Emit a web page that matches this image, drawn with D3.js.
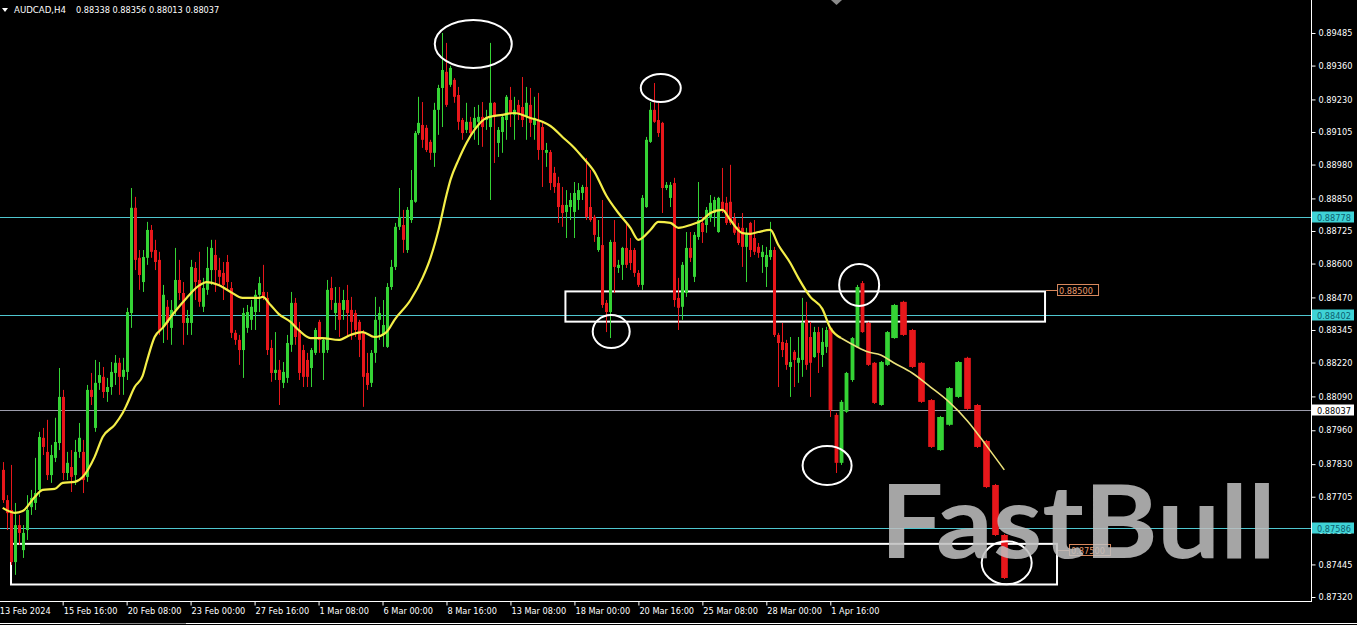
<!DOCTYPE html>
<html><head><meta charset="utf-8">
<script src="https://cdn.jsdelivr.net/npm/d3@7"></script>
<style>html,body{margin:0;padding:0;background:#000;overflow:hidden}svg{display:block}</style>
</head><body>
<svg id="chart" width="1357" height="625"></svg>
<script>
// ---------------- DATA ----------------
const symbolTitle = "AUDCAD,H4";
const quoteValues = [0.88338, 0.88356, 0.88013, 0.88037];

// candles: [open, high, low, close]
const ohlc = [
[0.87808,0.87838,0.87681,0.87692],[0.87692,0.87711,0.87577,0.87642],[0.87654,0.87827,0.87443,0.87454],[0.87454,0.87681,0.87405,0.87596],
[0.87596,0.87635,0.87520,0.87566],[0.87500,0.87596,0.87470,0.87566],[0.87577,0.87711,0.87539,0.87654],[0.87665,0.87731,0.87635,0.87700],
[0.87681,0.87854,0.87654,0.87719],[0.87731,0.87954,0.87704,0.87934],[0.87931,0.87969,0.87865,0.87896],[0.87877,0.88000,0.87769,0.87788],
[0.87788,0.87904,0.87758,0.87865],[0.87854,0.88008,0.87838,0.87915],[0.87911,0.88199,0.87884,0.88088],[0.88088,0.88115,0.87769,0.87796],
[0.87796,0.87877,0.87769,0.87835],[0.87819,0.87884,0.87723,0.87781],[0.87788,0.87923,0.87750,0.87877],[0.87877,0.87988,0.87854,0.87931],
[0.87877,0.87923,0.87719,0.87769],[0.87781,0.88134,0.87762,0.88115],[0.88115,0.88180,0.88057,0.88088],[0.87969,0.88230,0.87954,0.88142],
[0.88142,0.88222,0.88115,0.88172],[0.88165,0.88203,0.88084,0.88107],[0.88107,0.88161,0.88069,0.88126],[0.88126,0.88222,0.88096,0.88184],
[0.88180,0.88249,0.88134,0.88219],[0.88219,0.88238,0.88096,0.88165],[0.88165,0.88238,0.88096,0.88192],[0.88184,0.88430,0.88153,0.88414],
[0.88410,0.88890,0.88353,0.88814],[0.88814,0.88856,0.88575,0.88614],[0.88622,0.88652,0.88499,0.88556],[0.88529,0.88652,0.88491,0.88625],
[0.88622,0.88760,0.88595,0.88729],[0.88729,0.88748,0.88622,0.88645],[0.88652,0.88691,0.88575,0.88606],[0.88614,0.88645,0.88326,0.88345],
[0.88357,0.88518,0.88295,0.88480],[0.88434,0.88460,0.88307,0.88372],[0.88353,0.88460,0.88288,0.88422],[0.88422,0.88660,0.88403,0.88537],
[0.88537,0.88614,0.88460,0.88487],[0.88487,0.88529,0.88288,0.88372],[0.88372,0.88422,0.88326,0.88391],[0.88372,0.88614,0.88326,0.88587],
[0.88583,0.88606,0.88460,0.88529],[0.88537,0.88645,0.88434,0.88453],[0.88434,0.88545,0.88414,0.88506],[0.88499,0.88664,0.88480,0.88583],
[0.88575,0.88691,0.88518,0.88660],[0.88633,0.88691,0.88491,0.88575],[0.88575,0.88622,0.88518,0.88549],[0.88564,0.88606,0.88460,0.88518],
[0.88606,0.88633,0.88499,0.88529],[0.88506,0.88529,0.88314,0.88334],[0.88334,0.88345,0.88288,0.88307],[0.88307,0.88326,0.88211,0.88268],
[0.88268,0.88430,0.88161,0.88410],[0.88353,0.88441,0.88334,0.88414],[0.88384,0.88460,0.88345,0.88434],[0.88414,0.88499,0.88345,0.88480],
[0.88480,0.88549,0.88414,0.88525],[0.88491,0.88595,0.88460,0.88468],[0.88468,0.88491,0.88249,0.88268],[0.88276,0.88307,0.88146,0.88180],
[0.88180,0.88337,0.88153,0.88192],[0.88192,0.88230,0.88057,0.88153],[0.88142,0.88222,0.88122,0.88184],[0.88161,0.88326,0.88142,0.88295],
[0.88288,0.88491,0.88261,0.88449],[0.88449,0.88468,0.88288,0.88318],[0.88345,0.88376,0.88153,0.88180],[0.88268,0.88288,0.88126,0.88165],
[0.88230,0.88257,0.88126,0.88165],[0.88199,0.88276,0.88126,0.88268],[0.88257,0.88353,0.88249,0.88345],[0.88376,0.88384,0.88257,0.88307],
[0.88257,0.88314,0.88153,0.88307],[0.88268,0.88537,0.88257,0.88499],[0.88506,0.88549,0.88422,0.88460],[0.88410,0.88510,0.88345,0.88449],
[0.88449,0.88510,0.88318,0.88384],[0.88422,0.88499,0.88384,0.88460],[0.88460,0.88518,0.88318,0.88410],[0.88422,0.88472,0.88307,0.88376],
[0.88410,0.88422,0.88318,0.88345],[0.88376,0.88384,0.88241,0.88307],[0.88334,0.88345,0.88050,0.88165],[0.88180,0.88257,0.88115,0.88134],
[0.88142,0.88268,0.88126,0.88257],[0.88257,0.88472,0.88219,0.88384],[0.88384,0.88434,0.88307,0.88410],[0.88326,0.88460,0.88280,0.88364],
[0.88280,0.88525,0.88276,0.88510],[0.88510,0.88614,0.88499,0.88587],[0.88587,0.88756,0.88575,0.88741],[0.88741,0.88890,0.88729,0.88779],
[0.88748,0.88806,0.88641,0.88691],[0.88652,0.88817,0.88641,0.88806],[0.88767,0.88959,0.88756,0.88844],[0.88837,0.89109,0.88833,0.89101],
[0.89101,0.89240,0.89094,0.89140],[0.89132,0.89220,0.89044,0.89075],[0.89121,0.89132,0.89028,0.89036],[0.89067,0.89075,0.88998,0.89025],
[0.89025,0.89217,0.88971,0.89190],[0.89190,0.89286,0.89094,0.89274],[0.89274,0.89485,0.89124,0.89343],[0.89336,0.89447,0.89201,0.89209],
[0.89286,0.89359,0.89278,0.89351],[0.89305,0.89312,0.89217,0.89240],[0.89247,0.89278,0.89113,0.89144],[0.89151,0.89159,0.89075,0.89101],
[0.89113,0.89217,0.89101,0.89144],[0.89144,0.89163,0.89086,0.89101],[0.89121,0.89201,0.89075,0.89159],[0.89144,0.89209,0.89055,0.89163],
[0.89163,0.89220,0.89048,0.89124],[0.89151,0.89190,0.89113,0.89163],[0.89124,0.89447,0.88844,0.89217],[0.89217,0.89220,0.88986,0.89163],
[0.89063,0.89124,0.89009,0.89113],[0.89105,0.89171,0.89025,0.89163],[0.89151,0.89247,0.89075,0.89240],[0.89228,0.89278,0.89124,0.89178],
[0.89171,0.89240,0.89075,0.89190],[0.89209,0.89228,0.89151,0.89178],[0.89201,0.89316,0.89124,0.89151],[0.89163,0.89278,0.89075,0.89217],
[0.89209,0.89274,0.89086,0.89140],[0.89132,0.89240,0.89075,0.89159],[0.89151,0.89255,0.88998,0.89036],[0.89124,0.89140,0.88894,0.89036],
[0.89025,0.89063,0.88971,0.89036],[0.89028,0.89036,0.88882,0.88909],[0.88948,0.88971,0.88871,0.88894],[0.88909,0.88933,0.88756,0.88817],
[0.88825,0.88894,0.88741,0.88794],[0.88798,0.88882,0.88698,0.88825],[0.88817,0.88871,0.88767,0.88844],[0.88798,0.88913,0.88698,0.88871],
[0.88844,0.88909,0.88806,0.88882],[0.88871,0.88902,0.88844,0.88894],[0.88894,0.89005,0.88767,0.88779],[0.88817,0.88959,0.88760,0.88767],
[0.88779,0.88787,0.88683,0.88710],[0.88652,0.88767,0.88645,0.88702],[0.88671,0.88844,0.88430,0.88441],[0.88449,0.88460,0.88337,0.88414],
[0.88414,0.88691,0.88314,0.88683],[0.88683,0.88767,0.88487,0.88587],[0.88583,0.88614,0.88564,0.88595],[0.88595,0.88664,0.88537,0.88660],
[0.88660,0.88756,0.88583,0.88595],[0.88652,0.88698,0.88575,0.88602],[0.88652,0.88660,0.88549,0.88564],[0.88564,0.88575,0.88510,0.88518],
[0.88518,0.88863,0.88499,0.88852],[0.88817,0.89086,0.88814,0.89075],[0.89067,0.89220,0.89063,0.89190],[0.89190,0.89293,0.89140,0.89144],
[0.89151,0.89217,0.89086,0.89101],[0.89140,0.89144,0.88794,0.88890],[0.88890,0.88913,0.88882,0.88902],[0.88852,0.88913,0.88817,0.88902],
[0.88909,0.88929,0.88434,0.88460],[0.88468,0.88545,0.88345,0.88430],[0.88434,0.88606,0.88384,0.88595],[0.88487,0.88721,0.88472,0.88660],
[0.88660,0.88721,0.88606,0.88622],[0.88549,0.88721,0.88529,0.88710],[0.88702,0.88913,0.88691,0.88767],[0.88756,0.88779,0.88679,0.88721],
[0.88748,0.88817,0.88718,0.88806],[0.88775,0.88863,0.88760,0.88833],[0.88794,0.88856,0.88741,0.88844],[0.88721,0.88856,0.88718,0.88852],
[0.88837,0.88967,0.88794,0.88806],[0.88833,0.88856,0.88748,0.88756],[0.88837,0.88979,0.88748,0.88756],[0.88775,0.88794,0.88710,0.88718],
[0.88741,0.88756,0.88671,0.88679],[0.88737,0.88794,0.88587,0.88664],[0.88664,0.88737,0.88529,0.88717],[0.88756,0.88760,0.88625,0.88652],
[0.88698,0.88767,0.88633,0.88645],[0.88664,0.88679,0.88622,0.88641],[0.88625,0.88671,0.88564,0.88645],[0.88587,0.88664,0.88510,0.88633],
[0.88625,0.88760,0.88614,0.88652],[0.88652,0.88664,0.88318,0.88326],[0.88326,0.88334,0.88126,0.88295],[0.88299,0.88372,0.88241,0.88268],
[0.88295,0.88307,0.88192,0.88211],[0.88203,0.88318,0.88088,0.88222],[0.88261,0.88268,0.88126,0.88230],[0.88219,0.88318,0.88142,0.88238],
[0.88230,0.88468,0.88165,0.88372],[0.88384,0.88453,0.88192,0.88211],[0.88318,0.88376,0.88088,0.88219],[0.88241,0.88357,0.88238,0.88337],
[0.88337,0.88357,0.88180,0.88257],[0.88249,0.88353,0.88203,0.88299],[0.88280,0.88357,0.88257,0.88345],[0.88353,0.88357,0.88011,0.88038],
[0.88019,0.88027,0.87796,0.87835],[0.87835,0.88076,0.87827,0.88069],[0.88031,0.88184,0.88027,0.88180],[0.88153,0.88318,0.88146,0.88314],
[0.88280,0.88518,0.88276,0.88510],[0.88525,0.88533,0.88334,0.88337],[0.88372,0.88376,0.88207,0.88211],[0.88219,0.88222,0.88061,0.88065],
[0.88057,0.88226,0.88054,0.88222],[0.88211,0.88341,0.88207,0.88337],[0.88314,0.88445,0.88311,0.88441],[0.88453,0.88457,0.88322,0.88326],
[0.88345,0.88349,0.88199,0.88203],[0.88219,0.88222,0.88065,0.88069],[0.88076,0.88080,0.87892,0.87896],[0.87884,0.88015,0.87881,0.88011],
[0.87981,0.88126,0.87977,0.88122],[0.88088,0.88226,0.88084,0.88222],[0.88238,0.88242,0.88038,0.88042],[0.88057,0.88061,0.87892,0.87896],
[0.87919,0.87923,0.87738,0.87742],[0.87750,0.87754,0.87554,0.87558],[0.87558,0.87562,0.87389,0.87393]
];

// moving average, sampled at bar indices
const maBars   = [0,3,5,8,10,13,15,18,20,23,25,28,30,31,33,35,36,38,40,43,46,49,51,54,57,60,64,65,67,69,72,74,77,80,84,87,90,93,96,98,102,105,107,109,111,112,114,116,118,121,125,128,132,135,137,140,143,145,148,151,154,157,159,162,164,167,169,172,175,177,180,182,185,187,189,192,194,197,199,202,205,207,209,212,214,216,218,220,222,224,226,228,230];
const maValues = [0.87662,0.87643,0.87650,0.87704,0.87731,0.87735,0.87758,0.87762,0.87781,0.87858,0.87934,0.87981,0.88026,0.88057,0.88126,0.88169,0.88222,0.88318,0.88353,0.88414,0.88468,0.88514,0.88529,0.88518,0.88491,0.88468,0.88468,0.88472,0.88441,0.88407,0.88376,0.88345,0.88314,0.88314,0.88307,0.88326,0.88337,0.88318,0.88337,0.88384,0.88460,0.88545,0.88622,0.88729,0.88863,0.88921,0.88998,0.89063,0.89113,0.89159,0.89171,0.89178,0.89159,0.89144,0.89128,0.89086,0.89044,0.89009,0.88952,0.88860,0.88794,0.88737,0.88691,0.88729,0.88760,0.88756,0.88737,0.88748,0.88767,0.88794,0.88806,0.88767,0.88717,0.88714,0.88721,0.88729,0.88671,0.88602,0.88545,0.88472,0.88426,0.88353,0.88314,0.88280,0.88261,0.88249,0.88219,0.88180,0.88126,0.88069,0.87996,0.87904,0.87808];

// price axis labels
const priceTicks = [0.89485,0.89360,0.89230,0.89105,0.88980,0.88850,0.88725,0.88600,0.88470,0.88345,0.88220,0.88090,0.87960,0.87830,0.87705,0.87575,0.87445,0.87320];
// time axis labels (bar index of each label)
const timeTickBars = [-1,15,31,47,63,79,95,111,127,143,159,175,191,207];
const timeTickLabels = ["13 Feb 2024","15 Feb 16:00","20 Feb 08:00","23 Feb 00:00","27 Feb 16:00","1 Mar 08:00","6 Mar 00:00","8 Mar 16:00","13 Mar 08:00","18 Mar 00:00","20 Mar 16:00","25 Mar 08:00","28 Mar 00:00","1 Apr 16:00"];

// horizontal levels
const levelPrices = [0.88778, 0.88402, 0.87586];
const bidPrice = 0.88037;

// zones (rectangles) in bar index / price
const zoneFrom   = [140.75, 2.08];
const zoneTo     = [234.42, 235.72];
const zoneTop    = [0.88493, 0.87524];
const zoneBottom = [0.88377, 0.87368];
const zoneLabel  = [0.88500, 0.87500];

// circled points (bar index / price)
const markBars   = [117.7, 164.6, 152.2, 212.4, 206.2, 230.26];
const markPrices = [0.89443, 0.89274, 0.88339, 0.88518, 0.87825, 0.87451];

const watermarkText = "FastBull";

// ---------------- LAYOUT ----------------
const plotRight = 1311, plotBottom = 601;
const markRadii = [[38.5,24],[20,14],[18.5,16.5],[20,21],[24.5,19.5],[25,21.5]];
const UP = "#35d335", DOWN = "#e8171b";
const font = "'DejaVu Sans', Verdana, sans-serif";

const svg = d3.select("#chart");
svg.append("rect").attr("width",1357).attr("height",625).attr("fill","#000");

const x = d3.scaleLinear().domain([0,207,214,218,230]).range([2.7,830.3,867.7,893.7,1004.3]);
const y = d3.scaleLinear().domain([0.87320,0.89485]).range([597,33]);

svg.append("clipPath").attr("id","plot").append("rect")
  .attr("x",0).attr("y",0).attr("width",plotRight).attr("height",plotBottom);
const plot = svg.append("g").attr("clip-path","url(#plot)");

// levels
plot.selectAll("line.level").data(levelPrices).enter().append("line")
  .attr("x1",0).attr("x2",plotRight)
  .attr("y1",d=>Math.round(y(d))+0.5).attr("y2",d=>Math.round(y(d))+0.5)
  .attr("stroke","#4fc6cf").attr("stroke-width",1);
plot.append("line").attr("x1",0).attr("x2",plotRight)
  .attr("y1",Math.round(y(bidPrice))+0.5).attr("y2",Math.round(y(bidPrice))+0.5)
  .attr("stroke","#9c9cab").attr("stroke-width",1);

// zones
const zones = zoneFrom.map((f,k)=>({f,t:zoneTo[k],top:zoneTop[k],bot:zoneBottom[k],lab:zoneLabel[k]}));
plot.selectAll("rect.zone").data(zones).enter().append("rect")
  .attr("x",d=>x(d.f)).attr("y",d=>y(d.top))
  .attr("width",d=>x(d.t)-x(d.f)).attr("height",d=>y(d.bot)-y(d.top))
  .attr("fill","none").attr("stroke","#fff").attr("stroke-width",2);

const zl = svg.append("g");
zones.forEach(d=>{
  const yy = Math.round(y(d.lab))+0.5, x0 = x(d.t);
  zl.append("line").attr("x1",x0+1).attr("x2",x0+12).attr("y1",yy).attr("y2",yy)
    .attr("stroke","#d9895e").attr("stroke-width",1);
  zl.append("rect").attr("x",x0+12.5).attr("y",yy-6).attr("width",41).attr("height",11)
    .attr("fill","#000").attr("stroke","#d9895e").attr("stroke-width",1);
  zl.append("text").attr("x",x0+14).attr("y",yy+3.5).text(d3.format(".5f")(d.lab))
    .attr("fill","#e79a6c").attr("font-family",font).attr("font-size",8.2);
});

// watermark
svg.append("text").attr("x",880).attr("y",558).text(watermarkText)
  .attr("font-family","Lato, 'Open Sans', sans-serif").attr("font-weight",700)
  .attr("font-size",101).attr("textLength",396).attr("lengthAdjust","spacingAndGlyphs")
  .attr("fill","#c0c0c0").attr("opacity",0.86);

// candles
const candles = ohlc.map((d,i)=>({i,o:d[0],h:d[1],l:d[2],c:d[3]}));
function bodyW(i){ return i<207 ? 3 : Math.min(7, (x(i+1)-x(i))*0.72); }
const cg = plot.append("g");
cg.selectAll("line.wick").data(candles).enter().append("line")
  .attr("x1",d=>Math.round(x(d.i))+0.5).attr("x2",d=>Math.round(x(d.i))+0.5)
  .attr("y1",d=>y(d.h)).attr("y2",d=>y(d.l))
  .attr("stroke",d=>d.c>=d.o?UP:DOWN).attr("stroke-width",1);
cg.selectAll("rect.body").data(candles).enter().append("rect")
  .attr("x",d=>Math.round(x(d.i))+0.5-bodyW(d.i)/2)
  .attr("y",d=>y(Math.max(d.o,d.c)))
  .attr("width",d=>bodyW(d.i))
  .attr("height",d=>Math.max(1,Math.abs(y(d.o)-y(d.c))))
  .attr("fill",d=>d.c>=d.o?UP:DOWN);

// moving average
const ma = maBars.map((b,k)=>({b,v:maValues[k]}));
const maLine = d3.line().x(d=>x(d.b)).y(d=>y(d.v)).curve(d3.curveMonotoneX);
plot.append("path").datum(ma.filter(d=>d.b<=209)).attr("d",maLine)
  .attr("fill","none").attr("stroke","#f4ee48").attr("stroke-width",2.2);
plot.append("path").datum(ma.filter(d=>d.b>=209)).attr("d",maLine)
  .attr("fill","none").attr("stroke","#ece27a").attr("stroke-width",1.6);

// circled marks
const marks = markBars.map((b,k)=>({b,p:markPrices[k],r:markRadii[k]}));
plot.selectAll("ellipse.mark").data(marks).enter().append("ellipse")
  .attr("cx",d=>x(d.b)).attr("cy",d=>y(d.p)).attr("rx",d=>d.r[0]).attr("ry",d=>d.r[1])
  .attr("fill","none").attr("stroke","#fff").attr("stroke-width",2);

// frame
svg.append("line").attr("x1",plotRight+0.5).attr("x2",plotRight+0.5).attr("y1",0).attr("y2",plotBottom+1)
  .attr("stroke","#fff").attr("stroke-width",1);
svg.append("line").attr("x1",0).attr("x2",plotRight+1).attr("y1",plotBottom+0.5).attr("y2",plotBottom+0.5)
  .attr("stroke","#fff").attr("stroke-width",1);

// price axis
const ya = svg.append("g").attr("transform",`translate(${plotRight+0.5},0)`)
  .call(d3.axisRight(y).tickValues(priceTicks).tickFormat(d3.format(".5f")).tickSize(4).tickPadding(3));
ya.select(".domain").remove();
ya.selectAll(".tick line").attr("stroke","#fff");
ya.selectAll(".tick text").attr("fill","#fff").attr("font-family",font).attr("font-size",8.2);

// time axis
const xa = svg.append("g").attr("transform",`translate(0,${plotBottom+0.5})`)
  .call(d3.axisBottom(x).tickValues(timeTickBars).tickFormat((d,k)=>timeTickLabels[k]).tickSize(4).tickPadding(3));
xa.select(".domain").remove();
xa.selectAll(".tick line").attr("stroke","#fff");
xa.selectAll(".tick text").attr("fill","#fff").attr("font-family",font).attr("font-size",8.2)
  .attr("text-anchor","start").attr("dx",0.5);

// price labels of levels (on axis)
const lvl = svg.append("g");
levelPrices.forEach(p=>{
  const yy = Math.round(y(p))+0.5;
  lvl.append("rect").attr("x",plotRight+1).attr("y",yy-6).attr("width",42).attr("height",11).attr("fill","#3fd3d6");
  lvl.append("text").attr("x",plotRight+6).attr("y",yy+3.3).text(d3.format(".5f")(p))
    .attr("fill","#0d5f6e").attr("font-family",font).attr("font-size",8.2);
});
{
  const yy = Math.round(y(bidPrice))+0.5;
  lvl.append("rect").attr("x",plotRight+1).attr("y",yy-6).attr("width",42).attr("height",11).attr("fill","#fff");
  lvl.append("text").attr("x",plotRight+6).attr("y",yy+3.3).text(d3.format(".5f")(bidPrice))
    .attr("fill","#000").attr("font-family",font).attr("font-size",8.2);
}

// title
svg.append("path").attr("d","M2,8 L8,8 L5,12 Z").attr("fill","#fff");
svg.append("text").attr("x",14).attr("y",12.5).text(symbolTitle)
  .attr("fill","#fff").attr("font-family",font).attr("font-size",8.6);
svg.append("text").attr("x",76).attr("y",12.5).text(quoteValues.map(d3.format(".5f")).join(" "))
  .attr("fill","#fff").attr("font-family",font).attr("font-size",8.2);

// chart shift marker
svg.append("path").attr("d","M831,0 L842,0 L836.5,5 Z").attr("fill","#8a8a8a");

// bottom tab strip line
svg.append("line").attr("x1",0).attr("x2",1357).attr("y1",623.5).attr("y2",623.5).attr("stroke","#fff");
svg.append("line").attr("x1",100).attr("x2",186).attr("y1",623.5).attr("y2",623.5).attr("stroke","#888");
</script>
</body></html>
